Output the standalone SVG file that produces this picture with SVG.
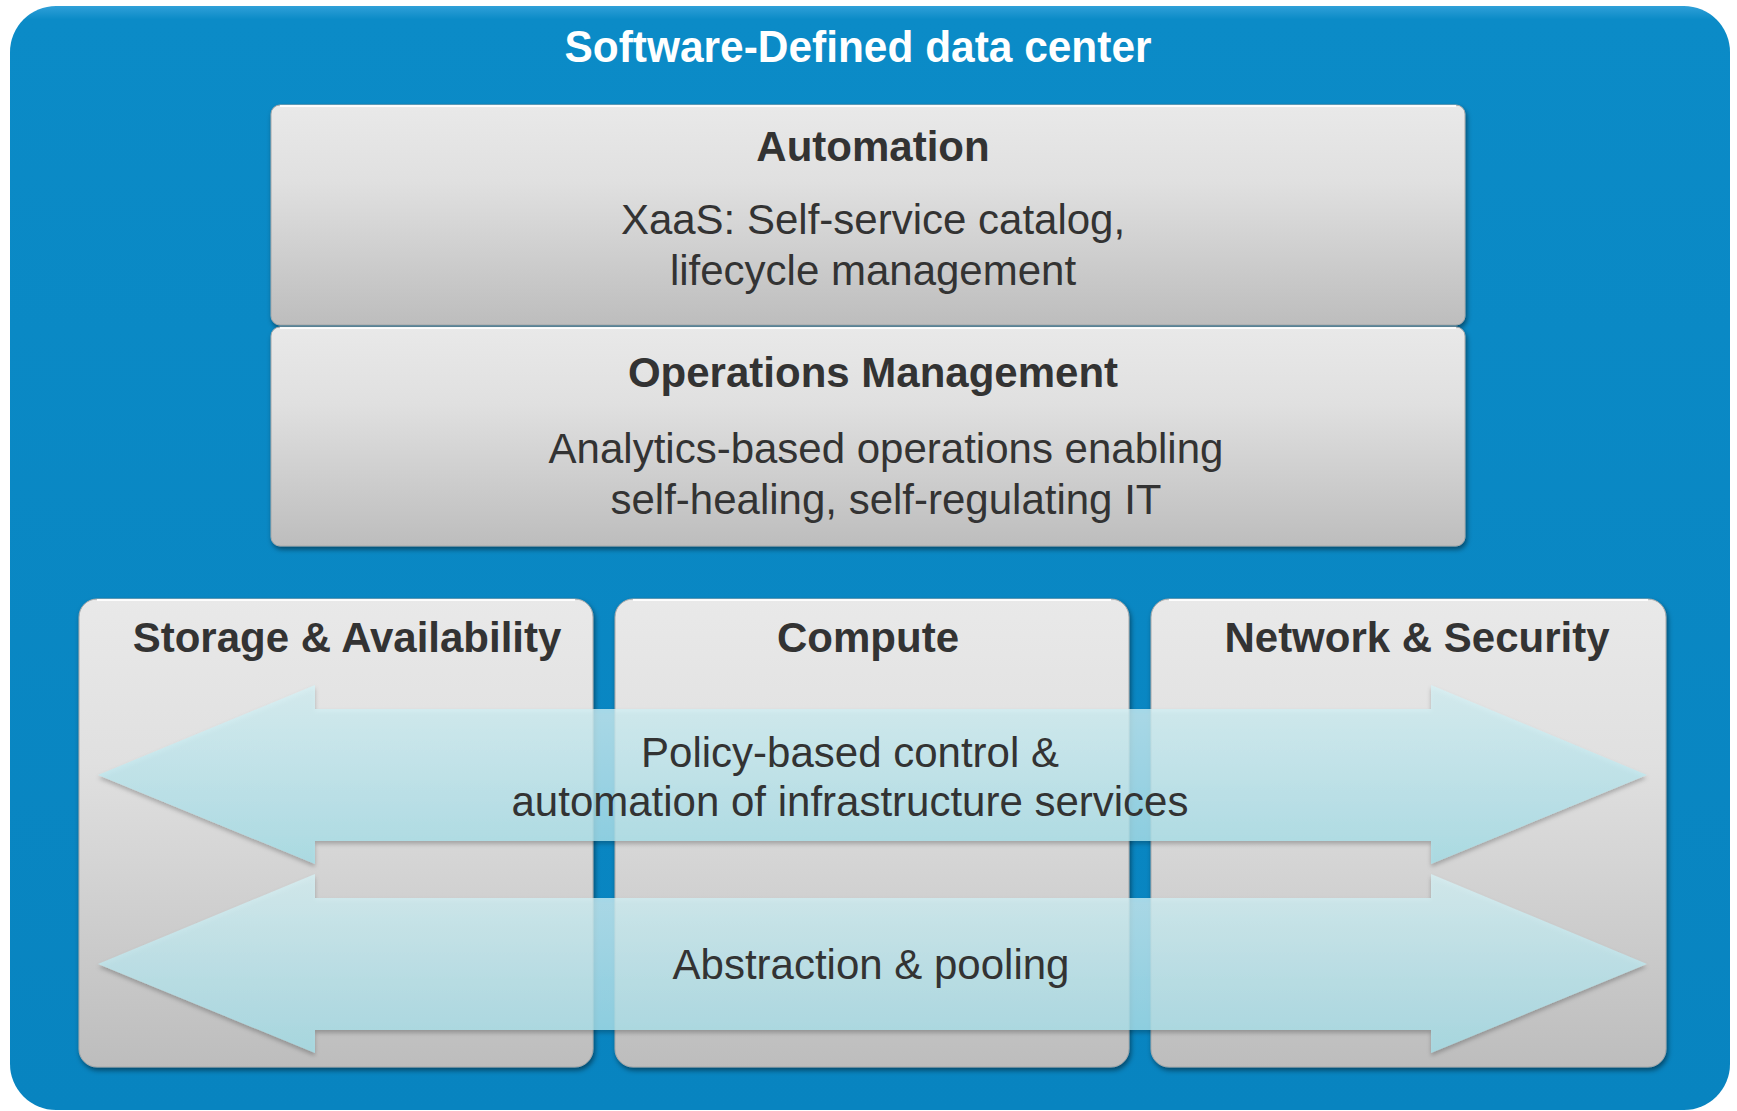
<svg xmlns="http://www.w3.org/2000/svg" width="1737" height="1111" viewBox="0 0 1737 1111">
<defs>
<linearGradient id="gBox" x1="0" y1="0" x2="0" y2="1">
<stop offset="0" stop-color="#e9e9e9"/>
<stop offset="0.35" stop-color="#e0e0e0"/>
<stop offset="1" stop-color="#bdbdbd"/>
</linearGradient>
<linearGradient id="gArrow" x1="0" y1="0" x2="0" y2="1">
<stop offset="0" stop-color="#d6f1f5"/>
<stop offset="1" stop-color="#a6e0ea"/>
</linearGradient>
<linearGradient id="gBlue" x1="0" y1="0" x2="0" y2="1">
<stop offset="0" stop-color="#2fa0d8"/>
<stop offset="0.012" stop-color="#0b8bc7"/>
<stop offset="1" stop-color="#0884c0"/>
</linearGradient>
<filter id="shadow" x="-5%" y="-5%" width="110%" height="115%">
<feDropShadow dx="1.5" dy="3" stdDeviation="2.5" flood-color="#000" flood-opacity="0.45"/>
</filter>
<filter id="ashadow" x="-5%" y="-10%" width="110%" height="125%">
<feDropShadow dx="0" dy="3" stdDeviation="2" flood-color="#000" flood-opacity="0.3"/>
</filter>
</defs>
<style>
.box{fill:url(#gBox);stroke:#a8a8a8;stroke-width:1;filter:url(#shadow)}
.hl{fill:none;stroke:#ffffff;stroke-width:2;stroke-opacity:0.9}
.h{font-family:"Liberation Sans",Arial,sans-serif;font-weight:bold;font-size:42px;fill:#333333;text-anchor:middle}
.t{font-family:"Liberation Sans",Arial,sans-serif;font-size:42px;fill:#333333;text-anchor:middle}
.arrow{fill:url(#gArrow);fill-opacity:0.78;filter:url(#ashadow)}
</style>
<rect x="10" y="6" width="1720" height="1104" rx="46" ry="46" fill="url(#gBlue)"/>
<text x="858" y="62" font-family="Liberation Sans, Arial, sans-serif" font-weight="bold" font-size="45" fill="#ffffff" text-anchor="middle" textLength="587" lengthAdjust="spacingAndGlyphs">Software-Defined data center</text>

<g id="automation">
<rect class="box" x="271" y="105" width="1194" height="220" rx="9"/>
<path class="hl" d="M280 106 H1456"/>
<text class="h" x="873" y="161">Automation</text>
<text class="t" x="873" y="234">XaaS: Self-service catalog,</text>
<text class="t" x="873" y="285">lifecycle management</text>
</g>

<g id="operations">
<rect class="box" x="271" y="327" width="1194" height="219" rx="9"/>
<path class="hl" d="M280 328 H1456"/>
<text class="h" x="873" y="387">Operations Management</text>
<text class="t" x="886" y="463">Analytics-based operations enabling</text>
<text class="t" x="886" y="514">self-healing, self-regulating IT</text>
</g>

<g id="storage">
<rect class="box" x="79" y="599" width="514" height="468" rx="18"/>
<path class="hl" d="M97 600 H575"/>
<text class="h" x="347" y="652">Storage &amp; Availability</text>
</g>

<g id="compute">
<rect class="box" x="615" y="599" width="514" height="468" rx="18"/>
<path class="hl" d="M633 600 H1111"/>
<text class="h" x="868" y="652">Compute</text>
</g>

<g id="network">
<rect class="box" x="1151" y="599" width="515" height="468" rx="18"/>
<path class="hl" d="M1169 600 H1648"/>
<text class="h" x="1417" y="652">Network &amp; Security</text>
</g>

<g id="connectors">
<g id="policy-arrow">
<polygon class="arrow" points="98,775 315,685 315,709 1431,709 1431,685 1647,775 1431,864 1431,841 315,841 315,864"/>
<text class="t" x="850" y="767">Policy-based control &amp;</text>
<text class="t" x="850" y="816">automation of infrastructure services</text>
</g>
<g id="abstraction-arrow">
<polygon class="arrow" points="98,964 315,874 315,898 1431,898 1431,874 1647,964 1431,1053 1431,1030 315,1030 315,1053"/>
<text class="t" x="871" y="979">Abstraction &amp; pooling</text>
</g>
</g>
</svg>
